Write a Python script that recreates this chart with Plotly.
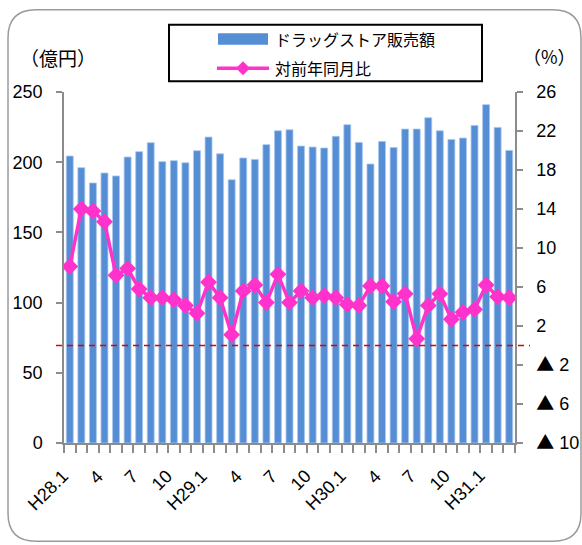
import plotly.graph_objects as go

# ---------------- data ----------------
categories = [
    "H28.1", "H28.2", "H28.3", "H28.4", "H28.5", "H28.6", "H28.7", "H28.8", "H28.9", "H28.10", "H28.11", "H28.12",
    "H29.1", "H29.2", "H29.3", "H29.4", "H29.5", "H29.6", "H29.7", "H29.8", "H29.9", "H29.10", "H29.11", "H29.12",
    "H30.1", "H30.2", "H30.3", "H30.4", "H30.5", "H30.6", "H30.7", "H30.8", "H30.9", "H30.10", "H30.11", "H30.12",
    "H31.1", "H31.2", "H31.3",
]
tick_labels = [
    "H28.1", "", "", "4", "", "", "7", "", "", "10", "", "",
    "H29.1", "", "", "4", "", "", "7", "", "", "10", "", "",
    "H30.1", "", "", "4", "", "", "7", "", "", "10", "", "",
    "H31.1", "", "",
]
sales = [
    204.4, 196.1, 185.2, 192.3, 190.2, 203.7, 207.5, 213.9, 200.4, 201.1, 199.6, 208.2,
    217.9, 206.0, 187.5, 203.0, 202.0, 212.5, 222.4, 223.1, 211.5, 210.8, 210.1, 218.4,
    226.7, 214.1, 198.7, 214.8, 210.5, 223.6, 223.6, 231.7, 222.4, 216.2, 217.2, 226.2,
    241.0, 224.8, 208.4,
]
yoy = [
    8.1, 14.0, 13.8, 12.7, 7.2, 7.9, 5.8, 4.9, 4.9, 4.7, 4.1, 3.3,
    6.5, 4.9, 1.1, 5.6, 6.2, 4.4, 7.3, 4.4, 5.6, 4.9, 5.1, 4.9,
    4.2, 4.1, 6.1, 6.1, 4.5, 5.3, 0.7, 4.1, 5.3, 2.7, 3.4, 3.7,
    6.2, 5.0, 4.9,
]
right_tick_values = [-10, -6, -2, 2, 6, 10, 14, 18, 22, 26]
right_tick_labels = ["▲ 10", "▲ 6", "▲ 2", "2", "6", "10", "14", "18", "22", "26"]
bar_name = "ドラッグストア販売額"
line_name = "対前年同月比"

# ---------------- layout helpers (pixel -> paper) ----------------
W, H = 582, 545
L, R, T, B = 64, 515, 92.3, 443.3


def px(x):
    return (x - L) / (R - L)


def py(y):
    return (B - y) / (B - T)


BLUE = "#558ED5"
PINK = "#FF33CC"
GRAY = "#8C8C8C"
NUM_FONT = "Liberation Sans, Arial, sans-serif"
JP_FONT = "Noto Sans CJK JP, sans-serif"

y2_ticktext = [
    t.replace("▲", "<span style='font-family:Noto Sans CJK JP'>▲</span>") for t in right_tick_labels
]

fig = go.Figure()
fig.add_trace(go.Bar(
    x=categories, y=sales, name=bar_name, yaxis="y",
    marker=dict(color=BLUE, line=dict(color="#A9C6EC", width=0.8)),
    showlegend=False,
))
fig.add_trace(go.Scatter(
    x=categories, y=yoy, name=line_name, yaxis="y2", mode="lines+markers",
    line=dict(color=PINK, width=3.5),
    marker=dict(symbol="diamond", size=13, color=PINK),
    showlegend=False,
))

# outer rounded border
x0, x1, y0, y1, r = 8, 581, 10, 541.5, 28
path = (
    f"M {px(x0 + r)} {py(y0)} L {px(x1 - r)} {py(y0)} "
    f"Q {px(x1)} {py(y0)} {px(x1)} {py(y0 + r)} "
    f"L {px(x1)} {py(y1 - r)} Q {px(x1)} {py(y1)} {px(x1 - r)} {py(y1)} "
    f"L {px(x0 + r)} {py(y1)} Q {px(x0)} {py(y1)} {px(x0)} {py(y1 - r)} "
    f"L {px(x0)} {py(y0 + r)} Q {px(x0)} {py(y0)} {px(x0 + r)} {py(y0)} Z"
)
shapes = [
    dict(type="path", xref="paper", yref="paper", path=path,
         line=dict(color="#9A9A9A", width=1.5), layer="below"),
    # zero line for the right axis
    dict(type="line", xref="paper", yref="y2", x0=px(56), x1=px(530), y0=0, y1=0,
         line=dict(color="#E00000", width=1.3, dash="6px,5px"), layer="above"),
    # manual legend box
    dict(type="rect", xref="paper", yref="paper", x0=px(169), x1=px(482), y0=py(25), y1=py(81.5),
         line=dict(color="black", width=2), fillcolor="white"),
    dict(type="rect", xref="paper", yref="paper", x0=px(218), x1=px(268), y0=py(33.5), y1=py(45),
         line=dict(width=0), fillcolor=BLUE),
    dict(type="line", xref="paper", yref="paper", x0=px(217), x1=px(269), y0=py(68.5), y1=py(68.5),
         line=dict(color=PINK, width=3.5)),
    dict(type="path", xref="paper", yref="paper", xsizemode="pixel", ysizemode="pixel",
         xanchor=px(243), yanchor=py(68.5), path="M 0 7 L 7 0 L 0 -7 L -7 0 Z",
         fillcolor=PINK, line=dict(width=0)),
]

annotations = [
    dict(text=bar_name, xref="paper", yref="paper", x=px(273), y=py(39.5), xanchor="left", yanchor="middle",
         showarrow=False, font=dict(family=JP_FONT, size=16, color="black")),
    dict(text=line_name, xref="paper", yref="paper", x=px(273), y=py(68.5), xanchor="left", yanchor="middle",
         showarrow=False, font=dict(family=JP_FONT, size=16, color="black")),
    dict(text="（億円）", xref="paper", yref="paper", x=px(58), y=py(57.5), xanchor="center", yanchor="middle",
         showarrow=False, font=dict(family=JP_FONT, size=19, color="black")),
    dict(text="（%）", xref="paper", yref="paper", x=px(549), y=py(56), xanchor="center", yanchor="middle",
         showarrow=False, font=dict(family=JP_FONT, size=18, color="black")),
]
# rotated category labels (every third month), placed on the category axis
for cat, lab in zip(categories, tick_labels):
    if lab:
        annotations.append(dict(
            text=lab, xref="x", yref="paper", x=cat, y=py(465), xanchor="right", yanchor="top",
            xshift=4, textangle=-45, showarrow=False, borderpad=0,
            font=dict(family=NUM_FONT, size=18, color="black"),
        ))

fig.update_layout(
    width=W, height=H,
    margin=dict(l=L, r=W - R, t=T, b=H - B, pad=0, autoexpand=False),
    paper_bgcolor="white", plot_bgcolor="white",
    bargap=0.4,
    showlegend=False,
    shapes=shapes,
    annotations=annotations,
    xaxis=dict(
        type="category", range=[-0.5, len(categories) - 0.5], automargin=False,
        tickmode="array", tickvals=categories, ticktext=[""] * len(categories),
        tickson="boundaries", ticks="outside", ticklen=8, tickwidth=1.5, tickcolor=GRAY,
        showline=True, linecolor=GRAY, linewidth=1.5, showgrid=False,
    ),
    yaxis=dict(
        range=[0, 250], tickmode="linear", tick0=0, dtick=50, automargin=False,
        ticks="outside", ticklen=6, tickwidth=1.5, tickcolor=GRAY,
        showline=True, linecolor=GRAY, linewidth=1.5, showgrid=False, zeroline=False,
        tickfont=dict(family=NUM_FONT, size=18, color="black"), ticklabelstandoff=10,
    ),
    yaxis2=dict(
        overlaying="y", side="right", range=[-10, 26], automargin=False,
        tickmode="array", tickvals=right_tick_values, ticktext=y2_ticktext,
        ticks="outside", ticklen=6, tickwidth=1.5, tickcolor=GRAY,
        showline=True, linecolor=GRAY, linewidth=1.5, showgrid=False, zeroline=False,
        tickfont=dict(family=NUM_FONT, size=18, color="black"), ticklabelstandoff=10,
    ),
)

fig.write_html("out.html", config={"displayModeBar": False},
               post_script="document.body.style.margin = '0';")
